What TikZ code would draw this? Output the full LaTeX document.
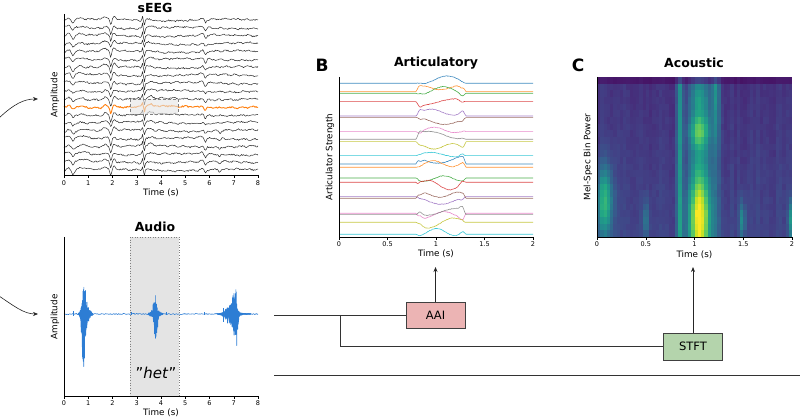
\documentclass[tikz,border=0pt]{standalone}
\usepackage{fontspec}
\setmainfont{DejaVu Sans}
\usetikzlibrary{arrows.meta}
\definecolor{tabblue}{HTML}{1F77B4}
\definecolor{taborange}{HTML}{FF7F0E}
\definecolor{tabgreen}{HTML}{2CA02C}
\definecolor{tabred}{HTML}{D62728}
\definecolor{tabpurple}{HTML}{9467BD}
\definecolor{tabbrown}{HTML}{8C564B}
\definecolor{tabpink}{HTML}{E377C2}
\definecolor{tabgray}{HTML}{7F7F7F}
\definecolor{tabolive}{HTML}{BCBD22}
\definecolor{tabcyan}{HTML}{17BECF}
\definecolor{wave}{RGB}{45,125,212}
\definecolor{aaifill}{RGB}{236,180,180}
\definecolor{stftfill}{RGB}{180,212,172}
\definecolor{hlgray}{RGB}{228,228,228}
\definecolor{vir0}{RGB}{68,1,84}
\definecolor{vir1}{RGB}{72,36,117}
\definecolor{vir2}{RGB}{65,68,135}
\definecolor{vir3}{RGB}{53,95,141}
\definecolor{vir4}{RGB}{42,120,142}
\definecolor{vir5}{RGB}{33,145,140}
\definecolor{vir6}{RGB}{34,168,132}
\definecolor{vir7}{RGB}{68,191,112}
\definecolor{vir8}{RGB}{122,209,81}
\definecolor{vir9}{RGB}{189,223,38}
\definecolor{vir10}{RGB}{253,231,37}
\definecolor{vir11}{RGB}{253,231,37}
\tikzset{
  spine/.style={line width=0.6pt, black},
  tickmark/.style={line width=0.5pt, black},
  ticklbl/.style={font=\fontsize{6.5}{7}\selectfont, inner sep=0pt},
  axlbl/.style={font=\fontsize{8.8}{10}\selectfont, inner sep=0pt},
  ttl/.style={font=\fontsize{12.5}{14}\selectfont\bfseries, inner sep=0pt},
  panellbl/.style={font=\fontsize{17}{19}\selectfont\bfseries, inner sep=0pt},
  procbox/.style={draw=black!75, line width=0.7pt, minimum width=59pt, minimum height=26pt, font=\fontsize{11.5}{13}\selectfont, inner sep=0pt},
  conn/.style={line width=0.7pt, black!80},
  arr/.style={-{Stealth[length=5pt,width=4pt]}, line width=0.7pt, black!85},
  wavestyle/.style={wave, line width=0.6pt, line join=round},
}
\begin{document}
\begin{tikzpicture}[x=1pt,y=-1pt,
  declare function={
    gs(\u,\m,\s)=exp(-(min(abs((\u-\m)/\s),6))^2);
    ramp(\u)=max(0,min(1,(\u-416)/3))*max(0,min(1,(466-\u)/3));
  }]
\useasboundingbox (0,0) rectangle (800,419);

% ---------------- sEEG ----------------
\node[ttl] (seegt) at (155,8) {sEEG};
\foreach \i in {0,...,200}{
  \pgfmathsetmacro\tq{\i*0.04}
  \pgfmathsetmacro\va{1.6*gs(\tq,0.2,0.1) - 2.8*gs(\tq,0.37,0.07) + 1.2*gs(\tq,0.7,0.15) + 2*gs(\tq,1.7,0.12) - 5.5*gs(\tq,1.93,0.05) + 2.2*gs(\tq,2.07,0.08) + 3.5*gs(\tq,3.24,0.035) - 5*gs(\tq,3.31,0.035) + 1.5*gs(\tq,3.55,0.15) + 1.2*gs(\tq,5.7,0.1) - 3*gs(\tq,5.83,0.06)}
  \pgfmathsetmacro\vb{-2.5*gs(\tq,6.42,0.05)+1.5*gs(\tq,0.9,0.2)}
  \expandafter\xdef\csname tpa\i\endcsname{\va}
  \expandafter\xdef\csname tpb\i\endcsname{\vb}
}
\pgfmathsetseed{11}
\foreach \k in {0,...,19}{
  \pgfmathsetmacro\yb{20+7.9*\k}
  \pgfmathsetmacro\ampA{0.7+0.6*rnd}
  \pgfmathsetmacro\phs{360*rnd}
  \pgfmathsetmacro\low{\k>13 ? 1 : 0}
  \gdef\pth{}
  \foreach \i in {0,...,200}{
    \edef\tva{\csname tpa\i\endcsname}\edef\tvb{\csname tpb\i\endcsname}
    \pgfmathsetmacro\yy{\yb-(\ampA*(\tva)+\low*(\tvb)+0.75*rand+0.9*sin(2.8*\i+\phs)+0.5*sin(31*\i+\phs))}
    \pgfmathsetmacro\xx{64+0.97*\i}
    \xdef\pth{\pth(\xx,\yy)}
  }
  \ifnum\k=11 \def\tc{taborange}\def\tw{0.9pt}\else\def\tc{black!82}\def\tw{0.5pt}\fi
  \edef\cmd{\noexpand\draw[color=\tc,line width=\tw,line join=round] plot coordinates {\pth};}
  \cmd
}
\draw[densely dashed, gray, line width=0.3pt, fill=hlgray, fill opacity=0.6] (130,99) rectangle (178,114);
\draw[spine] (64,14) -- (64,175) -- (258,175);
\foreach \i in {0,...,8}{
  \draw[tickmark] ({64+24.25*\i},175) -- ++(0,3);
  \node[ticklbl] (sx\i) at ({64+24.25*\i},183) {\i};
}
\node[axlbl] (seegx) at (161,193) {Time (s)};
\node[axlbl, rotate=90] (seegy) at (55,95) {Amplitude};

% ---------------- Audio ----------------
\node[ttl] (audt) at (155,227) {Audio};
\fill[hlgray] (130,237) rectangle (179,396);
\draw[dotted, gray, line width=0.6pt] (130,237) rectangle (179,396);
\pgfmathsetseed{21}
\draw[wavestyle] plot[domain=64:258, samples=250] (\x, {314+0.55*rand});
\draw[wavestyle] plot[domain=0:100, samples=101]
  ({78+0.15*\x}, {314 - ((mod(round(\x),2)==1) ? (30*gs(78+0.15*\x,84,2.2)+8*gs(78+0.15*\x,86,4.5)+0.6) : (-48*gs(78+0.15*\x,83.5,2)-10*gs(78+0.15*\x,86,4.5)-0.6))*(0.3+0.7*rnd)});
\draw[wavestyle] plot[domain=0:88, samples=89]
  ({148+0.17*\x}, {314 - ((mod(round(\x),2)==1) ? (15*gs(148+0.17*\x,155,2)+5*gs(148+0.17*\x,155,4.5)+0.6) : (-36*gs(148+0.17*\x,156,1.6)-5*gs(148+0.17*\x,155,4.5)-0.6))*(0.3+0.7*rnd)});
\draw[wavestyle] plot[domain=0:200, samples=201]
  ({217+0.17*\x}, {314 - ((mod(round(\x),2)==1) ? (24*gs(217+0.17*\x,235,2.2)+10*gs(217+0.17*\x,231,6)+0.6) : (-32*gs(217+0.17*\x,236,2)-12*gs(217+0.17*\x,231,6)-0.6))*(0.3+0.7*rnd)});
\foreach \xs/\up/\dn in {73/2.5/2, 80/4/3, 131/1.5/1.5, 166/1.5/1.5, 204/1.5/1.5, 223/6/8}{
  \draw[wavestyle] (\xs,{314-\up}) -- (\xs,{314+\dn});
}
\draw[spine] (64,237) -- (64,396) -- (258,396);
\foreach \i in {0,...,8}{
  \draw[tickmark] ({64+24.25*\i},396) -- ++(0,3);
  \node[ticklbl] (ax\i) at ({64+24.25*\i},403.5) {\i};
}
\node[axlbl] (audx) at (161,413) {Time (s)};
\node[axlbl, rotate=90] (audy) at (55,317) {Amplitude};
\node[font=\fontsize{15}{17}\selectfont, inner sep=0pt] (het) at (156,373) {\symbol{34}\textit{het}\symbol{34}};

% left incoming arrows
\coordinate (seegsrc) at (-1,118);
\coordinate (seegin) at (38,99);
\draw[arr, line width=0.6pt] (seegsrc) .. controls (14,104) and (24,99) .. (seegin);
\coordinate (audsrc) at (-1,296);
\coordinate (audin) at (38,314);
\draw[arr, line width=0.6pt] (audsrc) .. controls (14,306) and (24,314) .. (audin);

% ---------------- Articulatory ----------------
\node[panellbl] (lblB) at (322,65) {B};
\node[ttl] (artt) at (436,63) {Articulatory};
\pgfmathsetseed{8}
\foreach \yb/\lc in {83.3/tabblue, 91.7/taborange, 93.3/tabgreen, 101.7/tabred, 116/tabpurple, 117.7/tabbrown, 131.7/tabpink, 139.3/tabgray, 141.7/tabolive, 155.7/tabcyan, 164/tabblue, 167.3/taborange, 178/tabgreen, 182.3/tabred, 196.7/tabpurple, 198.3/tabbrown, 213.3/tabpink, 214.7/tabgray, 222.3/tabolive, 234.3/tabcyan}{
  \pgfmathsetmacro\pa{6*rand}
  \pgfmathsetmacro\pb{2+3*rnd}
  \pgfmathsetmacro\pc{5+5*rnd}
  \pgfmathsetmacro\pd{360*rnd}
  \pgfmathsetmacro\pe{3*rand}
  \pgfmathsetmacro\pf{3*rand}
  \draw[color=\lc, line width=0.6pt, opacity=0.85] (339,\yb) -- plot[domain=414:468, samples=60]
    (\x, {\yb - ramp(\x)*(\pa + \pb*sin(\pc*(\x-418)+\pd) + \pe*gs(\x,420,3) + \pf*gs(\x,462,3) + 0.3*rand)}) -- (533,\yb);
}
\draw[spine] (339,77) -- (339,237) -- (533,237);
\foreach \v/\l [count=\n] in {0/0, 0.5/0.5, 1/1, 1.5/1.5, 2/2}{
  \draw[tickmark] ({339+97*\v},237) -- ++(0,3);
  \node[ticklbl] (bx\n) at ({339+97*\v},244) {\l};
}
\node[axlbl] (artx) at (436,254) {Time (s)};
\node[axlbl, rotate=90] (arty) at (330,157) {Articulator Strength};

% ---------------- Acoustic ----------------
\node[panellbl] (lblC) at (578,65) {C};
\node[ttl] (acot) at (694,63) {Acoustic};
\foreach \j in {0,...,23}{
  \pgfmathsetmacro\fval{1-(\j+0.5)/24}
  \pgfmathsetmacro\rowA{gs(\fval,0.22,0.22)}
  \pgfmathsetmacro\rowB{gs(\fval,0.11,0.12)}
  \pgfmathsetmacro\rowC{0.3+0.55*gs(\fval,0.12,0.26)+0.32*gs(\fval,0.66,0.1)+0.1*gs(\fval,0.85,0.08)}
  \pgfmathsetmacro\rowD{0.4+0.6*gs(\fval,0.95,0.35)}
  \pgfmathsetmacro\rowZ{0.06*(1-\fval)}
  \expandafter\xdef\csname sra\j\endcsname{\rowA}
  \expandafter\xdef\csname srb\j\endcsname{\rowB}
  \expandafter\xdef\csname src\j\endcsname{\rowC}
  \expandafter\xdef\csname srd\j\endcsname{\rowD}
  \expandafter\xdef\csname srz\j\endcsname{\rowZ}
}
\begin{scope}
\clip (597,77) rectangle (792,237);
\pgfmathsetseed{3}
\foreach \i in {0,...,59}{
  \pgfmathsetmacro\tval{(\i+0.5)/30}
  \pgfmathsetmacro\colA{0.47*gs(\tval,0.08,0.08)}
  \pgfmathsetmacro\colB{0.22*gs(\tval,0.5,0.035)+0.3*gs(\tval,1.49,0.03)+0.35*gs(\tval,1.99,0.03)}
  \pgfmathsetmacro\colC{gs(\tval,1.05,0.11)}
  \pgfmathsetmacro\colD{0.35*gs(\tval,1.22,0.04)}
  \pgfmathsetmacro\colZ{0.11+0.04*rnd+0.33*gs(\tval,0.85,0.03)}
  \foreach \j in {0,...,23}{
    \edef\rowA{\csname sra\j\endcsname}\edef\rowB{\csname srb\j\endcsname}
    \edef\rowC{\csname src\j\endcsname}\edef\rowD{\csname srd\j\endcsname}
    \edef\rowZ{\csname srz\j\endcsname}
    \pgfmathsetmacro\vv{\colZ+\rowZ+0.03*rnd+\colA*\rowA+\colB*\rowB+\colC*\rowC+\colD*\rowD}
    \ifnum\j=0 \pgfmathsetmacro\vv{0.45*\vv}\fi
    \pgfmathsetmacro\vv{max(0,min(0.999,\vv))}
    \pgfmathtruncatemacro\kk{\vv*10}
    \pgfmathtruncatemacro\kn{\kk+1}
    \pgfmathtruncatemacro\pct{(\vv*10-\kk)*100}
    \fill[vir\kn!\pct!vir\kk] ({597+\i*3.25},{77+\j*6.6667}) rectangle ++(3.6,7.1);
  }
}
\end{scope}
\draw[spine] (597,77) -- (597,237) -- (792,237);
\foreach \v/\l [count=\n] in {0/0, 0.5/0.5, 1/1, 1.5/1.5, 2/2}{
  \draw[tickmark] ({597+97.5*\v},237) -- ++(0,3);
  \node[ticklbl] (cx\n) at ({597+97.5*\v},244) {\l};
}
\node[axlbl] (acox) at (694.5,255) {Time (s)};
\node[axlbl, rotate=90] (acoy) at (588,157) {Mel-Spec Bin Power};

% ---------------- flow ----------------
\coordinate (src) at (274,315);
\coordinate (br) at (340,315);
\node[procbox, fill=aaifill] (aai) at (435.5,315) {AAI};
\node[procbox, fill=stftfill, minimum height=27pt] (stft) at (693,346.5) {STFT};
\coordinate (aaiout) at (435.5,267);
\coordinate (stftout) at (693,267);
\draw[conn] (src) -- (aai.west);
\draw[conn] (br) |- (stft.west);
\draw[arr] (aai.north) -- (aaiout);
\draw[arr] (stft.north) -- (stftout);
\coordinate (low1) at (274,375);
\coordinate (low2) at (801,375);
\draw[conn] (low1) -- (low2);
\end{tikzpicture}
\end{document}
